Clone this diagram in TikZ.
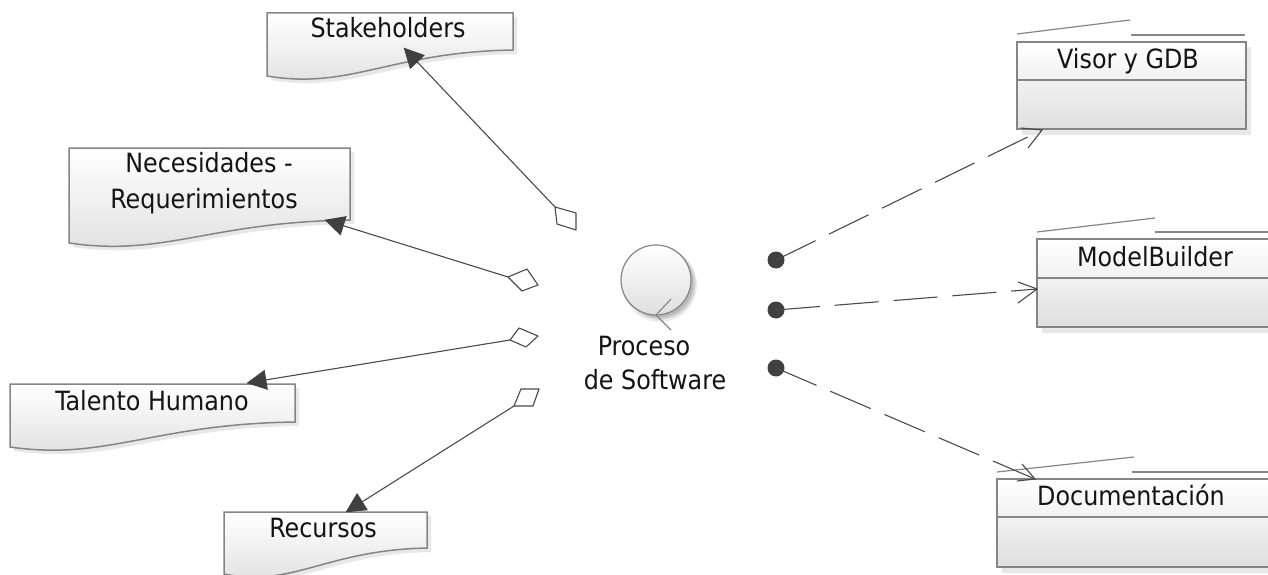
\documentclass[tikz,border=0pt]{standalone}
\usepackage{fontspec}
\setmainfont{DejaVu Sans Condensed}
\usetikzlibrary{arrows.meta}
\definecolor{edgegray}{HTML}{858585}
\definecolor{shadowgray}{HTML}{E8E8E8}
\definecolor{linkgray}{HTML}{4A4A4A}
\definecolor{headgray}{HTML}{404040}
\definecolor{inkgray}{HTML}{141414}
\definecolor{fillend}{HTML}{DFDFDF}
\tikzset{
  boxface/.style={draw=edgegray,line width=1.5pt,top color=white,bottom color=fillend},
  boxshadow/.style={fill=shadowgray,draw=none},
  tabline/.style={draw=edgegray,line width=1.2pt},
  label/.style={anchor=base,inner sep=0pt,text=inkgray,font=\fontsize{26.5}{30}\selectfont},
  assoc/.style={draw=linkgray,line width=1.1pt,-{Triangle[length=20pt,width=20pt,color=headgray]},shorten >=-0.5pt},
  diamondmark/.style={draw=linkgray,line width=1.1pt,fill=white,line join=round},
  depend/.style={draw=linkgray,line width=1.1pt,dash pattern=on 44pt off 15pt},
  barb/.style={draw=linkgray,line width=1.1pt},
  lollidot/.style={circle,fill=headgray,minimum size=17pt,inner sep=0pt},
}
% note box: left, top, right, bottom at right, bottom at left
\newcommand{\notepath}[5]{(#1,#2) -- (#3,#2) -- (#3,#4) .. controls ({#3-0.5*(#3-#1)},{#4+2}) and ({#1+0.34*(#3-#1)},{#5+14}) .. (#1,#5) -- cycle}
\newcommand{\notebox}[5]{%
  \fill[boxshadow,shift={(4,4)}] \notepath{#1}{#2}{#3}{#4}{#5};
  \path[boxface] \notepath{#1}{#2}{#3}{#4}{#5};}
% class box: left, top, divider, right, bottom
\newcommand{\classbox}[5]{%
  \fill[boxshadow] (#1+5,#2+5) rectangle (#4+5,#5+6);
  \path[boxface] (#1,#2) rectangle (#4,#5);
  \draw[tabline] (#1,#3) -- (#4,#3);}
\begin{document}
\begin{tikzpicture}[x=1pt,y=-1pt]
\clip (0,0) rectangle (1268,575);
\fill[white] (0,0) rectangle (1268,575);

% note boxes
\notebox{267}{13}{513}{50}{76}
\notebox{69}{148}{350}{220}{243}
\notebox{10}{384}{295}{422}{447}
\notebox{224}{512}{427}{548}{574}

% class boxes
\classbox{1017}{42}{80}{1246}{129}
\draw[tabline] (1017,34) -- (1130,20);
\draw[tabline] (1131,35) -- (1245,35);
\classbox{1037}{239}{278}{1275}{327}
\draw[tabline] (1037,232) -- (1155,218);
\draw[tabline] (1155,232) -- (1275,232);
\classbox{997}{479}{517}{1275}{567}
\draw[tabline] (997,472) -- (1134,457);
\draw[tabline] (1132,472) -- (1275,472);

% labels
\node[label] (stake) at (388,38) {Stakeholders};
\node[label] (neces) at (209,172) {Necesidades -};
\node[label] (reque) at (204,208) {Requerimientos};
\node[label] (talen) at (152,410) {Talento Humano};
\node[label] (recur) at (323,537) {Recursos};
\node[label] (visor) at (1128,69) {Visor y GDB};
\node[label] (model) at (1155,266) {ModelBuilder};
\node[label] (docum) at (1131,505) {Documentación};
\node[label] (proc) at (644,355) {Proceso};
\node[label] (soft) at (655,389) {de Software};

% process circle
\fill[gray!15] (660,285) circle (37);
\fill[gray!35] (660,284) circle (35.5);
\fill[gray!55] (659,283) circle (34.5);
\draw[edgegray,line width=1.2pt,top color=white,bottom color=fillend] (656,280) circle (35);
\draw[edgegray,line width=1.1pt] (671,299) -- (656,315) -- (671,330);

% aggregation connectors
\coordinate (tipA) at (404,48);
\coordinate (tipB) at (325,220);
\coordinate (tipC) at (247,383);
\coordinate (tipD) at (346,512);
\coordinate (dA) at (555,207);
\coordinate (dB) at (508,277);
\coordinate (dC) at (510,340);
\coordinate (dD) at (514,406);
\draw[assoc] (dA) -- (tipA);
\draw[assoc] (dB) -- (tipB);
\draw[assoc] (dC) -- (tipC);
\draw[assoc] (dD) -- (tipD);
\draw[diamondmark] (dA) -- (576,213) -- (576,230) -- (557,224) -- cycle;
\draw[diamondmark] (dB) -- (527,269) -- (538,285) -- (522,291) -- cycle;
\draw[diamondmark] (dC) -- (519,328) -- (538,336) -- (526,347) -- cycle;
\draw[diamondmark] (dD) -- (521,389) -- (539,389) -- (533,406) -- cycle;

% dependency connectors
\node[lollidot] (dotA) at (776,260) {};
\node[lollidot] (dotB) at (776,310) {};
\node[lollidot] (dotC) at (776,368) {};
\coordinate (arrA) at (1042,130);
\coordinate (arrB) at (1037,289);
\coordinate (arrC) at (1035,479);
\draw[depend] (dotA.center) -- (arrA);
\draw[depend] (dotB.center) -- (arrB);
\draw[depend] (dotC.center) -- (arrC);
\draw[barb] (1028,148) -- (arrA) -- (1021,128);
\draw[barb] (1018,282) -- (arrB) -- (1018,303);
\draw[barb] (1022,464) -- (arrC) -- (1017,481);
\end{tikzpicture}
\end{document}
